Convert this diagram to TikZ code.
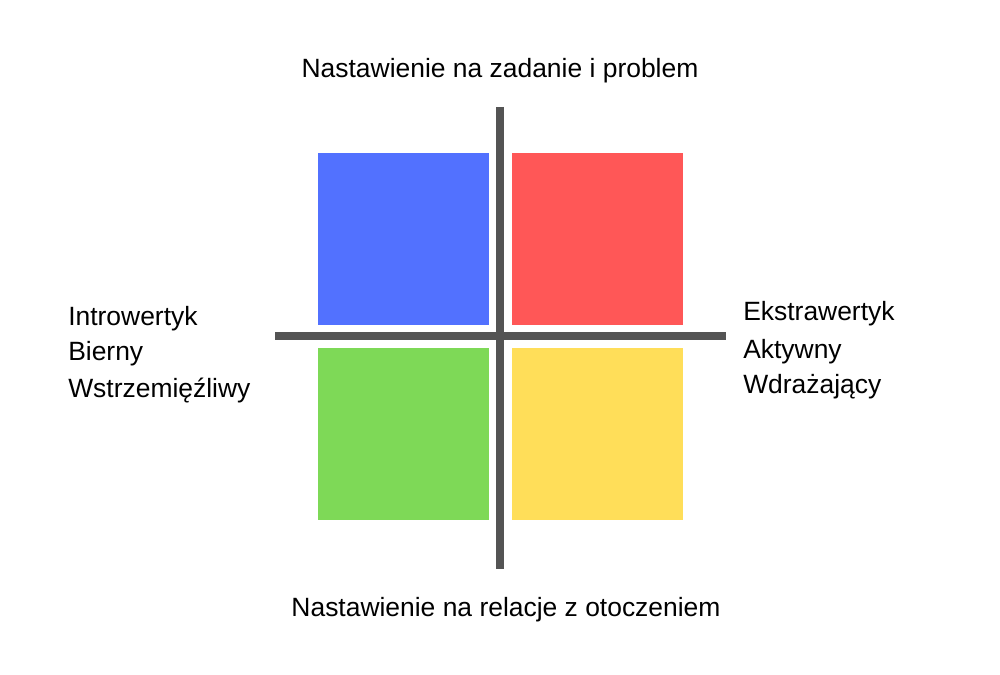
\documentclass[tikz,border=0pt]{standalone}
\usepackage{fontspec}
\setmainfont{Liberation Sans}
\usepackage{tikz}
\definecolor{kblue}{HTML}{5271FF}
\definecolor{kred}{HTML}{FF5757}
\definecolor{kgreen}{HTML}{7ED957}
\definecolor{kyellow}{HTML}{FFDE59}
\definecolor{kaxis}{HTML}{545454}

\begin{document}
\begin{tikzpicture}[x=0.025cm,y=-0.025cm]
	\tikzstyle{every node}=[font=\fontsize{18.8}{26}\selectfont, inner sep=0pt]
	\tikzstyle{axis}=[kaxis, line width=5.7pt]
	\useasboundingbox (0,0) rectangle (1000,675);
	
	% four quadrants
	\fill[kblue] (318,153) rectangle (489,325);
	\fill[kred] (512,153) rectangle (683,325);
	\fill[kgreen] (318,348) rectangle (489,520);
	\fill[kyellow] (512,348) rectangle (683,520);
	
	% axes
	\coordinate (top) at (500,107);
	\coordinate (bottom) at (500,569);
	\coordinate (left) at (275,336);
	\coordinate (right) at (726,336);
	\draw[axis] (top) -- (bottom);
	\draw[axis] (left) -- (right);
	
	\node[anchor=base] (zadanie) at (500,78) {Nastawienie na zadanie i problem};
	\node[anchor=base] (relacje) at (506,616) {Nastawienie na relacje z otoczeniem};
	
	\node[anchor=base west] (intro) at (68,325) {Introwertyk};
	\node[anchor=base west] (bierny) at (68,361) {Bierny};
	\node[anchor=base west] (wstrz) at (68,397) {Wstrzemięźliwy};
	
	\node[anchor=base west] (ekstra) at (743,321) {Ekstrawertyk};
	\node[anchor=base west] (aktywny) at (743,358) {Aktywny};
	\node[anchor=base west] (wdraz) at (743,394) {Wdrażający};
	
\end{tikzpicture}
\end{document}
